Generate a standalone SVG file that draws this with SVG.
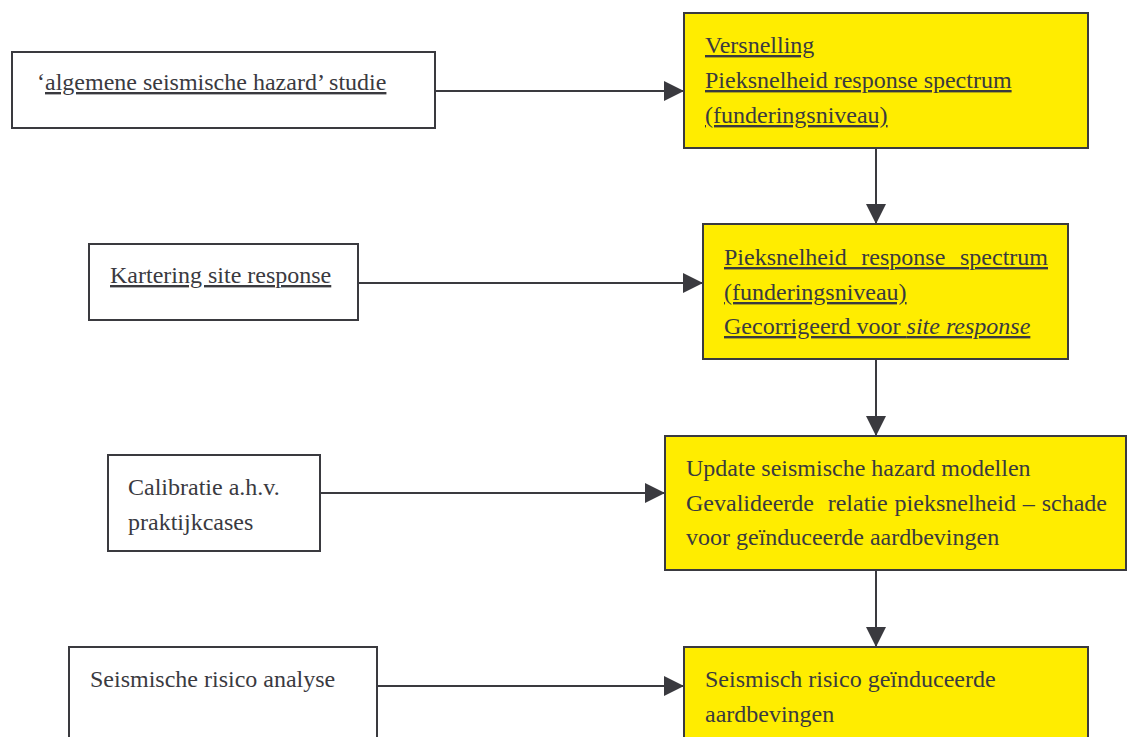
<svg xmlns="http://www.w3.org/2000/svg" width="1131" height="737" viewBox="0 0 1131 737">
<style>
text{font-family:"Liberation Serif","Times New Roman",serif;font-size:24px;fill:#3a3a3f;}
.u{text-decoration:underline;}
.box{fill:#ffffff;stroke:#3a3a3f;stroke-width:2;}
.ybox{fill:#ffed00;stroke:#3a3a3f;stroke-width:2;}
.conn{stroke:#3a3a3f;stroke-width:2;fill:none;marker-end:url(#ah);}
</style>
<defs>
<marker id="ah" viewBox="0 0 20 20" refX="20" refY="10" markerWidth="20" markerHeight="20" markerUnits="userSpaceOnUse" orient="auto">
<path d="M0,0 L20,10 L0,20 z" fill="#3a3a3f"/>
</marker>
</defs>
<rect width="1131" height="737" fill="#ffffff"/>
<g id="connectors">
<line class="conn" x1="435" y1="91" x2="684" y2="91"/>
<line class="conn" x1="876" y1="148" x2="876" y2="224"/>
<line class="conn" x1="358" y1="283" x2="703" y2="283"/>
<line class="conn" x1="876" y1="359" x2="876" y2="436"/>
<line class="conn" x1="320" y1="493" x2="665" y2="493"/>
<line class="conn" x1="876" y1="570" x2="876" y2="647"/>
<line class="conn" x1="377" y1="686" x2="684" y2="686"/>
</g>
<g id="n_algemene">
<rect class="box" x="12" y="52" width="423" height="76"/>
<text x="37" y="90">‘<tspan class="u">algemene seismische hazard’ studie</tspan></text>
</g>
<g id="n_versnelling">
<rect class="ybox" x="684" y="13" width="404" height="135"/>
<text x="705" y="53" class="u">Versnelling</text>
<text x="705" y="88" class="u">Pieksnelheid response spectrum</text>
<text x="705" y="123" class="u">(funderingsniveau)</text>
</g>
<g id="n_kartering">
<rect class="box" x="89" y="244" width="269" height="76"/>
<text x="110" y="283" class="u">Kartering site response</text>
</g>
<g id="n_gecorrigeerd">
<rect class="ybox" x="703" y="224" width="365" height="135"/>
<text x="724" y="265" class="u" word-spacing="8.7">Pieksnelheid response spectrum</text>
<text x="724" y="300" class="u">(funderingsniveau)</text>
<text x="724" y="334" class="u">Gecorrigeerd voor <tspan font-style="italic">site response</tspan></text>
</g>
<g id="n_calibratie">
<rect class="box" x="108" y="455" width="212" height="96"/>
<text x="128" y="495">Calibratie a.h.v.</text>
<text x="128" y="530">praktijkcases</text>
</g>
<g id="n_update">
<rect class="ybox" x="665" y="436" width="461" height="134"/>
<text x="686" y="476">Update seismische hazard modellen</text>
<text x="686" y="511" xml:space="preserve" word-spacing="0.9">Gevalideerde  relatie pieksnelheid – schade</text>
<text x="686" y="545">voor geïnduceerde aardbevingen</text>
</g>
<g id="n_risico_analyse">
<rect class="box" x="69" y="647" width="308" height="100"/>
<text x="90" y="687">Seismische risico analyse</text>
</g>
<g id="n_risico">
<rect class="ybox" x="684" y="647" width="404" height="100"/>
<text x="705" y="687">Seismisch risico geïnduceerde</text>
<text x="705" y="722">aardbevingen</text>
</g>
</svg>
